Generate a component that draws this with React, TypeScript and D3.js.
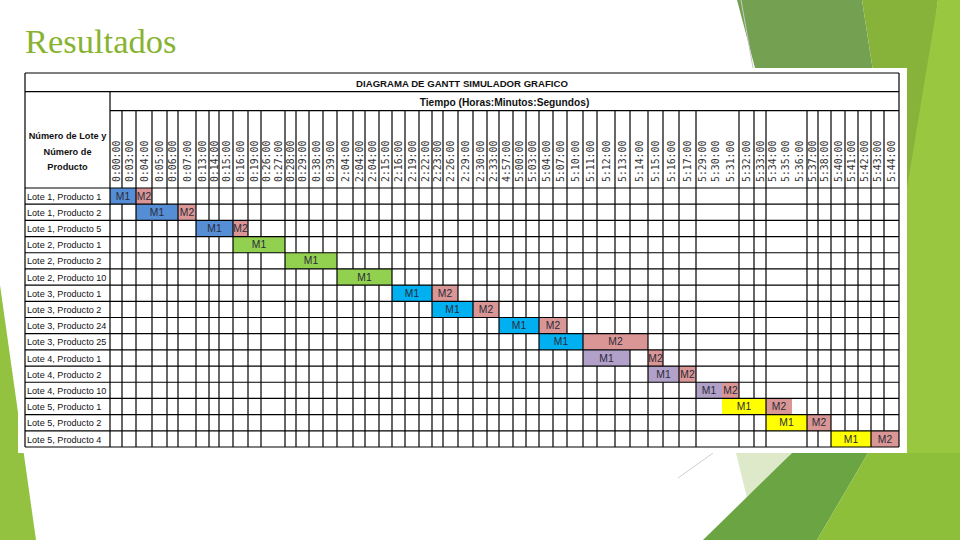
import React, { useEffect } from 'react';
import * as d3 from 'd3';

// ---------- data ----------
const rowLabels = [
  'Lote 1, Producto 1', 'Lote 1, Producto 2', 'Lote 1, Producto 5',
  'Lote 2, Producto 1', 'Lote 2, Producto 2', 'Lote 2, Producto 10',
  'Lote 3, Producto 1', 'Lote 3, Producto 2', 'Lote 3, Producto 24', 'Lote 3, Producto 25',
  'Lote 4, Producto 1', 'Lote 4, Producto 2', 'Lote 4, Producto 10',
  'Lote 5, Producto 1', 'Lote 5, Producto 2', 'Lote 5, Producto 4',
];
const rowLote = [1, 1, 1, 2, 2, 2, 3, 3, 3, 3, 4, 4, 4, 5, 5, 5];

const timeLabels = [
  '0:00:00', '0:03:00', '0:04:00', '0:05:00', '0:06:00', '0:07:00', '0:13:00', '0:14:00',
  '0:15:00', '0:16:00', '0:19:00', '0:26:00', '0:27:00', '0:28:00', '0:29:00', '0:38:00',
  '0:39:00', '2:04:00', '2:04:00', '2:04:00', '2:15:00', '2:16:00', '2:19:00', '2:22:00',
  '2:23:00', '2:26:00', '2:29:00', '2:30:00', '2:33:00', '4:57:00', '5:00:00', '5:03:00',
  '5:04:00', '5:07:00', '5:10:00', '5:11:00', '5:12:00', '5:13:00', '5:14:00', '5:15:00',
  '5:16:00', '5:17:00', '5:29:00', '5:30:00', '5:31:00', '5:32:00', '5:33:00', '5:34:00',
  '5:35:00', '5:36:00', '5:37:00', '5:38:00', '5:40:00', '5:41:00', '5:42:00', '5:43:00',
  '5:44:00',
];

// machine M1 / M2 occupation per row, as column index ranges [start, end)
const m1Start = [0, 2, 6, 9, 13, 17, 21, 24, 29, 32, 35, 39, 42, 44, 47, 52];
const m1End = [2, 5, 9, 13, 17, 21, 24, 27, 32, 35, 38, 41, 44, 47, 50, 55];
const m2Start = [2, 5, 9, null, null, null, 24, 27, 32, 35, 39, 41, 44, 47, 50, 55];
const m2End = [3, 6, 10, null, null, null, 26, 29, 34, 39, 40, 42, 45, 49, 52, 57];

const titleText = 'DIAGRAMA DE GANTT SIMULADOR GRAFICO';
const subtitleText = 'Tiempo (Horas:Minutos:Segundos)';
const rowHeaderLines = ['Número de Lote y', 'Número de', 'Producto'];
const slideTitle = 'Resultados';

// ---------- layout / style ----------
const colWidths = [
  12, 14, 16, 15, 11, 18, 13, 10, 14, 15, 13, 11, 13, 11, 13, 14, 14, 16, 12, 14,
  13, 13, 14, 13, 11, 15, 15, 14, 12, 14, 13, 13, 14, 14, 16, 14, 18, 15, 18, 15,
  16, 17, 13, 13, 17, 15, 12, 13, 13, 15, 11, 13, 14, 13, 13, 13, 15,
];
const mergedWithPrev = new Set([12, 43, 44, 48, 49]);

const loteColors: Record<number, string> = {
  1: '#558ed5',
  2: '#92d050',
  3: '#00b0f0',
  4: '#b1a0c7',
  5: '#ffff00',
};
const m2Color = '#da9694';

const W = 960;
const H = 540;
const T = { left: 25, labelRight: 110, right: 899, top: 73, titleBottom: 91.7, subBottom: 110.7, headBottom: 188, bottom: 447 };

export default function App() {
  useEffect(() => {
    document.body.style.margin = '0';
  }, []);

  const edges = [T.labelRight, ...Array.from(d3.cumsum(colWidths), (c) => T.labelRight + c)];
  const x = d3.scaleLinear().domain(d3.range(edges.length)).range(edges);
  const y = d3.scaleBand<number>().domain(d3.range(rowLabels.length)).range([T.headBottom, T.bottom]);
  const rh = y.bandwidth();

  const bars: { row: number; s: number; e: number; fill: string; label: string }[] = [];
  rowLabels.forEach((_, i) => {
    bars.push({ row: i, s: m1Start[i], e: m1End[i], fill: loteColors[rowLote[i]], label: 'M1' });
    if (m2Start[i] != null) bars.push({ row: i, s: m2Start[i] as number, e: m2End[i] as number, fill: m2Color, label: 'M2' });
  });

  const lw = 1.2;
  const line = '#000';

  return (
    <svg width={W} height={H} style={{ position: 'absolute', left: 0, top: 0, background: '#fff' }}>
      {/* decorative slide background */}
      <polygon points="737,0 862,0 893,200 790,200" fill="#74a151" />
      <polygon points="862,0 938,0 913,200 893,200" fill="#87b33a" />
      <polygon points="938,0 960,0 960,540 860,540 880,453 905,200" fill="#99c73f" />
      <line x1={741} y1={0} x2={753} y2={68} stroke="#c8c8c8" strokeWidth={1} />
      <polygon points="736,453 792,453 748,502" fill="#dde9c9" />
      <polygon points="792,453 868,453 817,540 703,540" fill="#6ba543" />
      <polygon points="868,453 960,453 960,540 817,540" fill="#8dbf3b" />
      <line x1={713} y1={453} x2={678} y2={478} stroke="#cfcfcf" strokeWidth={1} />
      <polygon points="0,285 36,540 0,540" fill="#92c23f" />

      <text x={25} y={53} fontFamily="Liberation Serif, serif" fontSize={34.5} fill="#88b332">{slideTitle}</text>

      {/* picture background */}
      <rect x={18} y={68} width={889} height={385} fill="#fff" />

      {/* bars */}
      {bars.map((b, k) => (
        <rect key={k} x={x(b.s)} y={y(b.row)!} width={x(b.e) - x(b.s)} height={rh} fill={b.fill} />
      ))}

      {/* grid: horizontal lines */}
      <line x1={T.left} x2={T.right} y1={T.top} y2={T.top} stroke={line} strokeWidth={lw} />
      <line x1={T.left} x2={T.right} y1={T.titleBottom} y2={T.titleBottom} stroke={line} strokeWidth={lw} />
      <line x1={T.labelRight} x2={T.right} y1={T.subBottom} y2={T.subBottom} stroke={line} strokeWidth={lw} />
      {d3.range(rowLabels.length + 1).map((i) => {
        const yy = i === rowLabels.length ? T.bottom : y(i)!;
        return <line key={'h' + i} x1={T.left} x2={T.right} y1={yy} y2={yy} stroke={line} strokeWidth={lw} />;
      })}
      {/* vertical lines */}
      <line x1={T.left} x2={T.left} y1={T.top} y2={T.bottom} stroke={line} strokeWidth={lw} />
      <line x1={T.right} x2={T.right} y1={T.top} y2={T.bottom} stroke={line} strokeWidth={lw} />
      <line x1={T.labelRight} x2={T.labelRight} y1={T.titleBottom} y2={T.bottom} stroke={line} strokeWidth={lw} />
      {timeLabels.map((_, c) => {
        if (c === 0 || mergedWithPrev.has(c)) return null;
        const xx = x(c);
        const segs: [number, number][] = [[T.subBottom, T.headBottom]];
        rowLabels.forEach((__, r) => {
          const covered = bars.some((b) => b.row === r && b.s < c && b.e > c);
          if (!covered) segs.push([y(r)!, y(r)! + rh]);
        });
        return segs.map((s, j) => (
          <line key={'v' + c + '-' + j} x1={xx} x2={xx} y1={s[0]} y2={s[1]} stroke={line} strokeWidth={lw} />
        ));
      })}

      {/* bar labels */}
      {bars.map((b, k) => (
        <text key={'bl' + k} x={(x(b.s) + x(b.e)) / 2} y={y(b.row)! + rh / 2 + 3.6} textAnchor="middle"
          fontFamily="Liberation Sans, Arial, sans-serif" fontSize={10.3} fill="#2a2a3a">{b.label}</text>
      ))}

      {/* header texts */}
      <text x={(T.left + T.right) / 2} y={86.5} textAnchor="middle" fontFamily="Liberation Sans, Arial, sans-serif"
        fontWeight="bold" fontSize={9.6} fill="#111">{titleText}</text>
      <text x={(T.labelRight + T.right) / 2} y={105.5} textAnchor="middle" fontFamily="Liberation Sans, Arial, sans-serif"
        fontWeight="bold" fontSize={10.2} fill="#111">{subtitleText}</text>
      {rowHeaderLines.map((t, i) => (
        <text key={'rh' + i} x={(T.left + T.labelRight) / 2} y={139 + i * 15.5} textAnchor="middle"
          fontFamily="Liberation Sans, Arial, sans-serif" fontWeight="bold" fontSize={9.2} fill="#111">{t}</text>
      ))}
      {timeLabels.map((t, c) => (
        <text key={'t' + c} transform={`translate(${(x(c) + x(c + 1)) / 2 + 3.5},${T.headBottom - 6}) rotate(-90)`}
          fontFamily="DejaVu Sans Mono, monospace" fontSize={9.8} fill="#333">{t}</text>
      ))}
      {rowLabels.map((t, i) => (
        <text key={'r' + i} x={T.left + 2} y={y(i)! + rh / 2 + 3.6} fontFamily="Liberation Sans, Arial, sans-serif"
          fontSize={9.1} fill="#111">{t}</text>
      ))}
    </svg>
  );
}
